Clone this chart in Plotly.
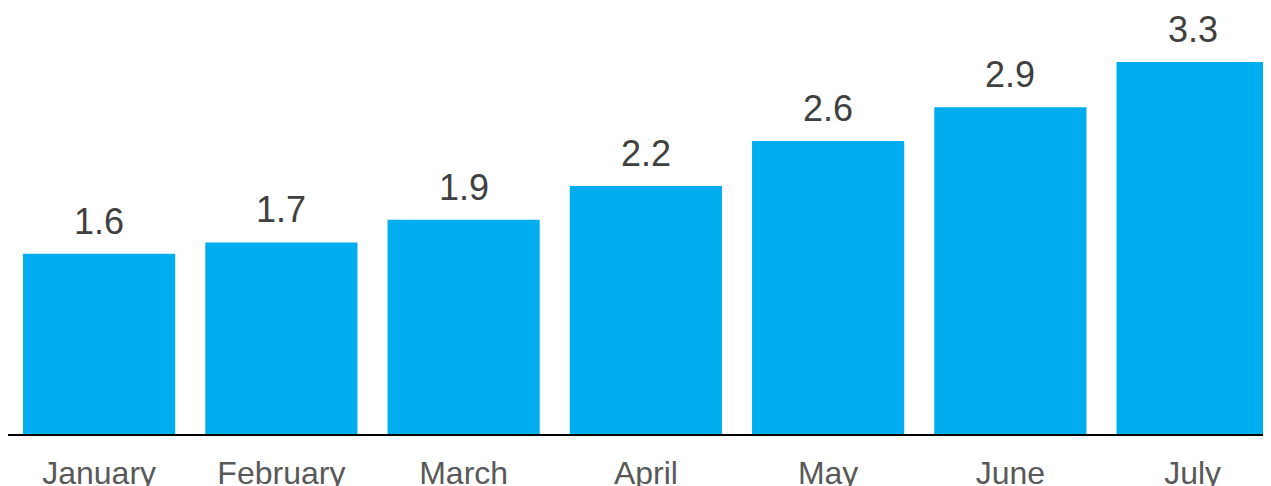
import plotly.graph_objects as go

months = ["January", "February", "March", "April", "May", "June", "July"]
values = [1.6, 1.7, 1.9, 2.2, 2.6, 2.9, 3.3]
labels = [f"{v:.1f}" for v in values]

fig = go.Figure()
fig.add_trace(go.Bar(x=months, y=values, marker=dict(color="#00AEEF", line=dict(width=0)),
                     hoverinfo="skip"))

for m, v, t in zip(months, values, labels):
    fig.add_annotation(x=m, y=v, text=t, showarrow=False, yanchor="bottom", yshift=11,
                       borderpad=0,
                       font=dict(family="Liberation Sans, Arial, sans-serif", size=36, color="#404040"))

fig.update_layout(
    width=1263, height=478,
    margin=dict(l=0, r=0, t=0, b=52, autoexpand=False),
    paper_bgcolor="white", plot_bgcolor="white",
    bargap=0.165,
    showlegend=False,
    xaxis=dict(range=[-0.5, 6.43], showline=True, linecolor="black", linewidth=2,
               showgrid=False, zeroline=False, ticks="outside", ticklen=10,
               tickcolor="rgba(0,0,0,0)", automargin=False,
               tickfont=dict(family="Liberation Sans, Arial, sans-serif", size=32, color="#595959")),
    yaxis=dict(range=[0, 3.78], visible=False, showgrid=False, zeroline=False, automargin=False),
)

fig.write_html("out.html")
